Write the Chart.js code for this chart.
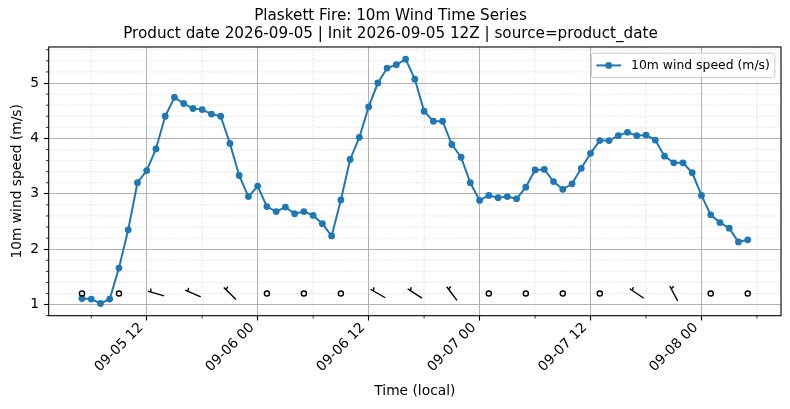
<!DOCTYPE html>
<html>
<head>
<meta charset="utf-8">
<script src="https://cdn.jsdelivr.net/npm/chart.js@4.4.1/dist/chart.umd.min.js"></script>
<style>
  html, body { margin: 0; padding: 0; background: #fff; }
  #wrap { width: 790px; height: 409px; }
</style>
</head>
<body>
<div id="wrap"><canvas id="windChart" width="790" height="409"></canvas></div>
<script>
// hourly model times (local)
const times = [
    "09-05 05", "09-05 06", "09-05 07", "09-05 08", "09-05 09", "09-05 10", "09-05 11", "09-05 12",
    "09-05 13", "09-05 14", "09-05 15", "09-05 16", "09-05 17", "09-05 18", "09-05 19", "09-05 20",
    "09-05 21", "09-05 22", "09-05 23",
    "09-06 00", "09-06 01", "09-06 02", "09-06 03", "09-06 04", "09-06 05", "09-06 06", "09-06 07",
    "09-06 08", "09-06 09", "09-06 10", "09-06 11", "09-06 12", "09-06 13", "09-06 14", "09-06 15",
    "09-06 16", "09-06 17", "09-06 18", "09-06 19", "09-06 20", "09-06 21", "09-06 22", "09-06 23",
    "09-07 00", "09-07 01", "09-07 02", "09-07 03", "09-07 04", "09-07 05", "09-07 06", "09-07 07",
    "09-07 08", "09-07 09", "09-07 10", "09-07 11", "09-07 12", "09-07 13", "09-07 14", "09-07 15",
    "09-07 16", "09-07 17", "09-07 18", "09-07 19", "09-07 20", "09-07 21", "09-07 22", "09-07 23",
    "09-08 00", "09-08 01", "09-08 02", "09-08 03", "09-08 04", "09-08 05"
];

// 10m wind speed (m/s)
const windSpeed = [
    1.11, 1.10, 1.02, 1.10, 1.66, 2.35, 3.20, 3.42,
    3.81, 4.40, 4.74, 4.63, 4.54, 4.52, 4.44, 4.40,
    3.91, 3.33, 2.95,
    3.14, 2.77, 2.68, 2.76, 2.64, 2.68, 2.61, 2.46,
    2.24, 2.89, 3.62, 4.02, 4.57, 5.00, 5.27, 5.33,
    5.43, 5.07, 4.49, 4.31, 4.31, 3.89, 3.66, 3.20,
    2.88, 2.97, 2.93, 2.95, 2.91, 3.12, 3.43, 3.44,
    3.22, 3.08, 3.18, 3.46, 3.73, 3.96, 3.96, 4.05,
    4.11, 4.05, 4.06, 3.97, 3.68, 3.56, 3.56, 3.38,
    2.97, 2.62, 2.48, 2.38, 2.13, 2.17
];

// wind barbs every 4 hours (speed in barb units, direction wind comes from)
const barbTimes = [
    "09-05 05", "09-05 09", "09-05 13", "09-05 17", "09-05 21",
    "09-06 01", "09-06 05", "09-06 09", "09-06 13", "09-06 17", "09-06 21",
    "09-07 01", "09-07 05", "09-07 09", "09-07 13", "09-07 17", "09-07 21",
    "09-08 01", "09-08 05"
];
const barbSpeed = [2, 2, 6, 6, 6, 2, 2, 2, 6, 6, 5, 2, 2, 2, 2, 5, 5, 2, 1];
const barbDir = [290, 290, 286, 294, 314, 300, 300, 300, 300, 303, 323, 300, 300, 300, 300, 304, 332, 310, 310];
const barbLevel = 1.2;

const xTickLabels = ["09-05 12", "09-06 00", "09-06 12", "09-07 00", "09-07 12", "09-08 00"];
const yTickValues = [1, 2, 3, 4, 5];

const legendLabel = "10m wind speed (m/s)";
const titleLines = [
    "Plaskett Fire: 10m Wind Time Series",
    "Product date 2026-09-05 | Init 2026-09-05 12Z | source=product_date"
];

const baseDay = Number(times[0].slice(3, 5));

function toHours(t) {
    const day = Number(t.slice(3, 5));
    const hour = Number(t.slice(6, 8));
    return (day - baseDay) * 24 + hour;
}

const points = times.map((t, i) => ({ x: toHours(t), y: windSpeed[i] }));

// matplotlib-like 5% margins
const xFirst = toHours(times[0]);
const xLast = toHours(times[times.length - 1]);
const xPad = (xLast - xFirst) * 0.05;
const yLo = Math.min(...windSpeed, barbLevel);
const yHi = Math.max(...windSpeed, barbLevel);
const yPad = (yHi - yLo) * 0.05;

Chart.defaults.font.family = "'DejaVu Sans', sans-serif";
Chart.defaults.color = "#000";

const minorGrid = {
    id: "minorGrid",
    beforeDatasetsDraw(chart) {
        const { ctx, chartArea: a, scales: { x, y } } = chart;
        ctx.save();
        ctx.lineWidth = 0.8;
        ctx.strokeStyle = "rgba(176,176,176,0.65)";
        ctx.setLineDash([1, 1.7]);
        for (let h = 6; h < x.max; h += 12) {
            const px = x.getPixelForValue(h);
            if (px < a.left || px > a.right) continue;
            ctx.beginPath();
            ctx.moveTo(px, a.top);
            ctx.lineTo(px, a.bottom);
            ctx.stroke();
        }
        for (let k = Math.ceil(y.min * 5); k <= Math.floor(y.max * 5); k++) {
            if (k % 5 === 0) continue;
            const py = y.getPixelForValue(k / 5);
            ctx.beginPath();
            ctx.moveTo(a.left, py);
            ctx.lineTo(a.right, py);
            ctx.stroke();
        }
        ctx.restore();
    },
    afterDatasetsDraw(chart) {
        const { ctx, chartArea: a, scales: { x, y } } = chart;
        ctx.save();
        // minor tick marks
        ctx.strokeStyle = "#000";
        ctx.lineWidth = 0.8;
        for (let h = 6; h < x.max; h += 12) {
            const px = x.getPixelForValue(h);
            ctx.beginPath();
            ctx.moveTo(px, a.bottom);
            ctx.lineTo(px, a.bottom + 2.8);
            ctx.stroke();
        }
        for (let k = Math.ceil(y.min * 5); k <= Math.floor(y.max * 5); k++) {
            if (k % 5 === 0) continue;
            const py = y.getPixelForValue(k / 5);
            ctx.beginPath();
            ctx.moveTo(a.left, py);
            ctx.lineTo(a.left - 2.8, py);
            ctx.stroke();
        }
        // spines
        ctx.lineWidth = 1.1;
        ctx.strokeRect(a.left, a.top, a.right - a.left, a.bottom - a.top);
        ctx.restore();
    }
};

const windBarbs = {
    id: "windBarbs",
    afterDatasetsDraw(chart) {
        const { ctx, scales: { x, y } } = chart;
        const L = 17;
        const spacing = 0.125 * L, fullH = 0.4 * L, fullW = 0.25 * L;
        ctx.save();
        ctx.strokeStyle = "#000";
        ctx.fillStyle = "#000";
        ctx.lineWidth = 1.4;
        barbTimes.forEach((t, i) => {
            const cx = x.getPixelForValue(toHours(t));
            const cy = y.getPixelForValue(barbLevel);
            const mag = 5 * Math.round(barbSpeed[i] / 5);
            if (mag === 0) {
                ctx.beginPath();
                ctx.arc(cx, cy, 0.15 * L, 0, Math.PI * 2);
                ctx.stroke();
                return;
            }
            const ang = barbDir[i] * Math.PI / 180;
            const ux = Math.sin(ang), uy = -Math.cos(ang);
            const vx = -uy, vy = ux;
            const tx = cx - ux * L / 2, ty = cy - uy * L / 2;
            const at = (s, h) => [tx + ux * s + vx * h, ty + uy * s + vy * h];
            ctx.beginPath();
            ctx.moveTo(...at(0, 0));
            ctx.lineTo(...at(L, 0));
            ctx.stroke();
            let nFlags = Math.floor(mag / 50);
            let nBarbs = Math.floor((mag % 50) / 10);
            const half = (mag % 10) >= 5;
            let off = L;
            for (let f = 0; f < nFlags; f++) {
                ctx.beginPath();
                ctx.moveTo(...at(off, 0));
                ctx.lineTo(...at(off - fullW / 2, fullH));
                ctx.lineTo(...at(off - fullW, 0));
                ctx.closePath();
                ctx.fill();
                off -= fullW + spacing;
            }
            for (let b = 0; b < nBarbs; b++) {
                ctx.beginPath();
                ctx.moveTo(...at(off, 0));
                ctx.lineTo(...at(off + fullW / 2, fullH));
                ctx.stroke();
                off -= spacing;
            }
            if (half) {
                if (off === L) off -= 1.5 * spacing;
                ctx.beginPath();
                ctx.moveTo(...at(off, 0));
                ctx.lineTo(...at(off + fullW / 4, fullH / 2));
                ctx.stroke();
            }
        });
        ctx.restore();
    }
};

const boxLegend = {
    id: "boxLegend",
    afterDraw(chart) {
        const { ctx, chartArea: a } = chart;
        const fs = 12.4;
        ctx.save();
        ctx.font = fs + "px 'DejaVu Sans'";
        const tw = ctx.measureText(legendLabel).width;
        const pad = 0.4 * fs, handle = 2 * fs, gap = 0.8 * fs;
        const w = pad + handle + gap + tw + pad;
        const h = 24.5;
        const right = a.right - 0.5 * fs;
        const top = a.top + 0.5 * fs;
        const left = right - w;
        ctx.beginPath();
        ctx.roundRect(left, top, w, h, 2.5);
        ctx.fillStyle = "rgba(255,255,255,0.8)";
        ctx.fill();
        ctx.strokeStyle = "#cccccc";
        ctx.lineWidth = 1;
        ctx.stroke();
        const my = top + h / 2;
        ctx.strokeStyle = "#1f77b4";
        ctx.lineWidth = 2;
        ctx.beginPath();
        ctx.moveTo(left + pad, my);
        ctx.lineTo(left + pad + handle, my);
        ctx.stroke();
        ctx.fillStyle = "#1f77b4";
        ctx.beginPath();
        ctx.arc(left + pad + handle / 2, my, 3.4, 0, Math.PI * 2);
        ctx.fill();
        ctx.fillStyle = "#000";
        ctx.textBaseline = "middle";
        ctx.fillText(legendLabel, left + pad + handle + gap, my + 0.5);
        ctx.restore();
    }
};

new Chart(document.getElementById("windChart"), {
    type: "line",
    data: {
        datasets: [
            {
                label: legendLabel,
                data: points,
                borderColor: "#1f77b4",
                backgroundColor: "#1f77b4",
                borderWidth: 2,
                pointRadius: 3.4,
                pointBorderWidth: 0,
                pointHoverRadius: 3.4,
                tension: 0,
            },
        ],
    },
    options: {
        responsive: false,
        animation: false,
        events: [],
        layout: { padding: { left: 0, right: 9, top: 0, bottom: 0 } },
        plugins: {
            legend: { display: false },
            tooltip: { enabled: false },
            title: {
                display: true,
                text: titleLines,
                color: "#000",
                font: { size: 15.2, weight: "normal", lineHeight: 1.2 },
                padding: { top: 6.5, bottom: 4 },
            },
        },
        scales: {
            x: {
                type: "linear",
                min: xFirst - xPad,
                max: xLast + xPad,
                afterBuildTicks: (s) => {
                    s.ticks = xTickLabels.map((t) => ({ value: toHours(t) }));
                },
                afterFit: (s) => { s.height = 409 - 315.7; },
                ticks: {
                    autoSkip: false,
                    minRotation: 45,
                    maxRotation: 45,
                    padding: -0.8,
                    labelOffset: -5.6,
                    font: { size: 13.8 },
                    color: "#000",
                    callback: (v, i) => xTickLabels[i],
                },
                grid: {
                    color: "#a8a8a8",
                    lineWidth: 0.9,
                    tickColor: "#000",
                    tickLength: 4.8,
                    tickWidth: 1.1,
                },
                border: { display: false },
                title: {
                    display: true,
                    text: "Time (local)",
                    color: "#000",
                    font: { size: 13.8, lineHeight: 1.2 },
                    padding: { top: 0, bottom: 9.7 },
                },
            },
            y: {
                type: "linear",
                min: yLo - yPad,
                max: yHi + yPad,
                afterBuildTicks: (s) => {
                    s.ticks = yTickValues.map((v) => ({ value: v }));
                },
                afterFit: (s) => { s.width = 48.7; },
                ticks: {
                    padding: 4.8,
                    font: { size: 13.8 },
                    color: "#000",
                    callback: (v) => String(v),
                },
                grid: {
                    color: "#a8a8a8",
                    lineWidth: 0.9,
                    tickColor: "#000",
                    tickLength: 4.8,
                    tickWidth: 1.1,
                },
                border: { display: false },
                title: {
                    display: true,
                    text: "10m wind speed (m/s)",
                    color: "#000",
                    font: { size: 13.8, lineHeight: 1.2 },
                    padding: { top: 8.7, bottom: 0 },
                },
            },
        },
    },
    plugins: [minorGrid, windBarbs, boxLegend],
});
</script>
</body>
</html>
